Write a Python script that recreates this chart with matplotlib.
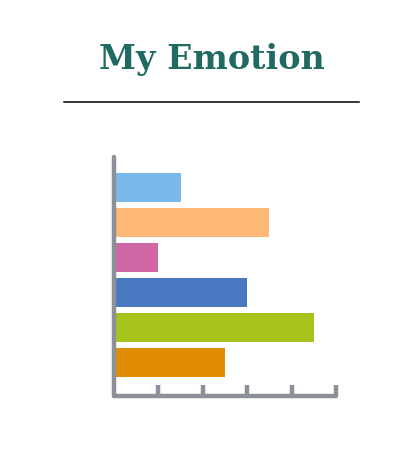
import matplotlib
matplotlib.use("Agg")
import matplotlib.pyplot as plt
from matplotlib.lines import Line2D

# ---------------------------------------------------------------------------
# Data (top bar first)
# ---------------------------------------------------------------------------
title = "My Emotion"
emotions = ["joy", "warmth", "love", "calm", "energy", "excitement"]
values = [1.5, 3.5, 1.0, 3.0, 4.5, 2.5]
colors = ["#7ab8e9", "#feb877", "#d066a6", "#4a78c1", "#a6c41c", "#e18d04"]
x_ticks = [1, 2, 3, 4, 5]

axis_grey = "#8b9099"
title_color = "#1f6b62"

W, H = 420, 458
fig = plt.figure(figsize=(W / 100, H / 100), dpi=100)

# title and rule underneath
fig.text(212 / W, 1 - 69 / H, title, ha="center", va="baseline",
         fontsize=24, fontweight="bold", family="DejaVu Serif", color=title_color)
fig.add_artist(Line2D([64 / W, 359 / W], [1 - 101.5 / H] * 2,
                      transform=fig.transFigure, color="black", lw=1.1))

# chart area: x=0 at px 114, x=5 at px 336; y axis from px 157 down to 396
left, right, top, bottom = 114, 336, 157, 396
ax = fig.add_axes([left / W, 1 - bottom / H, (right - left) / W, (bottom - top) / H])
ypos = list(range(len(values)))
ax.barh(ypos, values, height=0.83, color=colors)
ax.set_xlim(0, 5)
ax.set_ylim(5.95, -0.88)

for side in ("top", "right"):
    ax.spines[side].set_visible(False)
for side in ("left", "bottom"):
    ax.spines[side].set_color(axis_grey)
    ax.spines[side].set_linewidth(3.2)
    ax.spines[side].set_capstyle("round")
ax.set_yticks([])
ax.set_xticks(x_ticks)
ax.set_xticklabels([])
ax.tick_params(axis="x", direction="in", length=8, width=3.2, color=axis_grey)
for t in ax.xaxis.get_major_ticks():
    t.tick1line.set_solid_capstyle("round")
ax.set_facecolor("none")

fig.savefig("out.png", dpi=100)
